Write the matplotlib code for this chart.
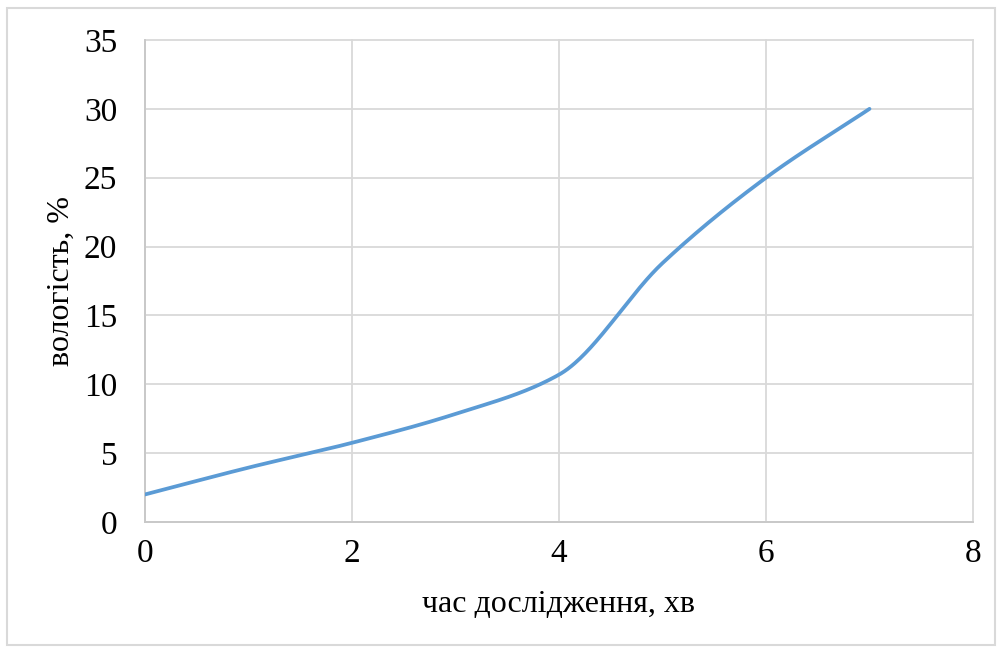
import numpy as np
import matplotlib.pyplot as plt
from matplotlib.patches import Rectangle

# data
time_min = [0, 1, 2, 3, 4, 5, 6, 7]
moisture = [2.0, 3.95, 5.75, 7.85, 10.7, 18.8, 25.0, 30.0]

x_label = 'час дослідження, хв'
y_label = 'вологість, %'


def smooth(xs, ys, n=60):
    # monotone cubic (Fritsch-Carlson) for a smooth line through the points
    xs = np.asarray(xs, float)
    ys = np.asarray(ys, float)
    h = np.diff(xs)
    d = np.diff(ys) / h
    m = np.zeros_like(ys)
    m[0], m[-1] = d[0], d[-1]
    for i in range(1, len(xs)-1):
        if d[i-1]*d[i] > 0:
            w1 = 2*h[i] + h[i-1]
            w2 = h[i] + 2*h[i-1]
            m[i] = (w1 + w2) / (w1/d[i-1] + w2/d[i])
    ox, oy = [], []
    t = np.linspace(0, 1, n)
    for i in range(len(xs)-1):
        h00 = 2*t**3 - 3*t**2 + 1
        h10 = t**3 - 2*t**2 + t
        h01 = -2*t**3 + 3*t**2
        h11 = t**3 - t**2
        ox.extend(xs[i] + t*h[i])
        oy.extend(h00*ys[i] + h10*h[i]*m[i] + h01*ys[i+1] + h11*h[i]*m[i+1])
    return np.array(ox), np.array(oy)


plt.rcParams['font.family'] = ['Liberation Serif', 'DejaVu Serif']

fig = plt.figure(figsize=(10.01, 6.5), dpi=100)
ax = fig.add_axes([145/1001, 1-522/650, (973-145)/1001, (522-40)/650])

sx, sy = smooth(time_min, moisture)
ax.plot(sx, sy, color='#5B9BD5', lw=2.7, solid_capstyle='round', zorder=3)

ax.set_xlim(0, 8)
ax.set_ylim(0, 35)
ax.set_xticks(range(0, 9, 2))
ax.set_yticks(range(0, 36, 5))
ax.grid(True, color='#D9D9D9', lw=1.3)
for gl in ax.get_xgridlines() + ax.get_ygridlines():
    gl.set_clip_on(False)
ax.set_axisbelow(True)
for s in ['top', 'right']:
    ax.spines[s].set_visible(False)
for s in ['left', 'bottom']:
    ax.spines[s].set_color('#C8C8C8')
    ax.spines[s].set_linewidth(1.3)
ax.tick_params(length=0, labelsize=24)
ax.tick_params(axis='y', pad=20)
ax.tick_params(axis='x', pad=12)
ax.set_xlabel(x_label, fontsize=23, labelpad=15)
ax.set_ylabel(y_label, fontsize=23, labelpad=6)

fig.patches.append(Rectangle((7/1001, 1-645/650), 988/1001, 637/650,
                             transform=fig.transFigure, fill=False,
                             edgecolor='#D9D9D9', lw=1.5))

fig.savefig('out.png', dpi=100)
